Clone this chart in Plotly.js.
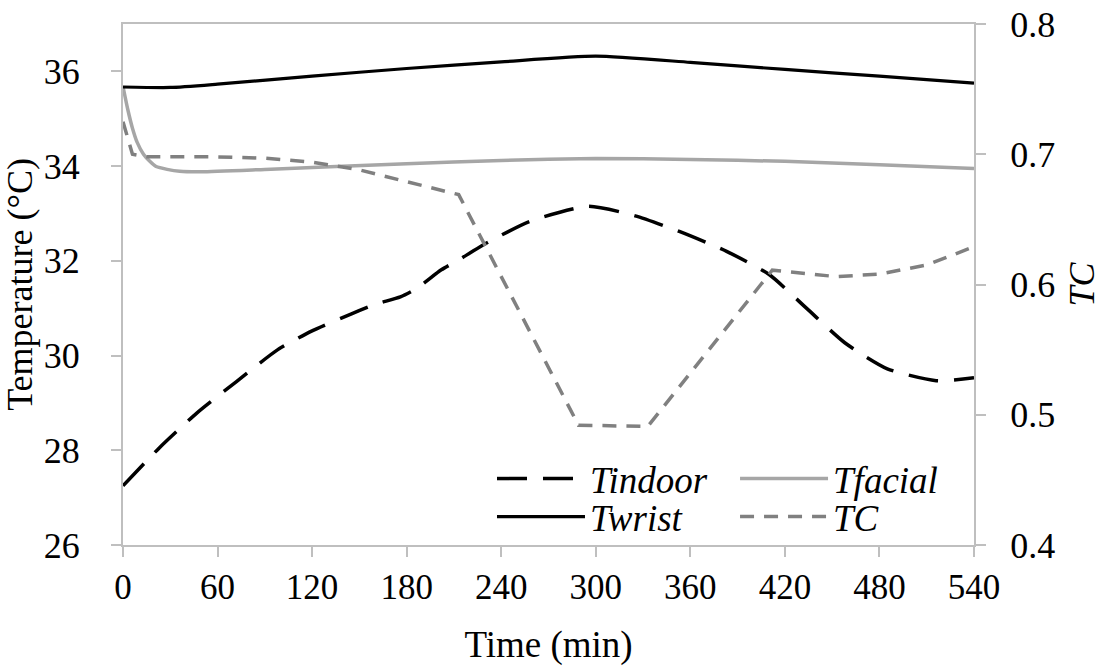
<!DOCTYPE html>
<html>
<head>
<meta charset="utf-8">
<script src="https://cdn.plot.ly/plotly-3.0.1.min.js"></script>
<style>html,body{margin:0;padding:0;background:#fff;}#chart{width:1110px;height:666px;}</style>
</head>
<body>
<div id="chart"></div>
<script>
// Time (min) and values
const tTindoor = [0, 23, 47, 72, 98, 120, 145, 160, 176, 186, 202, 212, 231, 258, 295, 325, 353, 383, 410, 434, 458, 485, 516, 540];
const vTindoor = [27.25, 28.05, 28.79, 29.45, 30.12, 30.52, 30.88, 31.08, 31.24, 31.41, 31.81, 32.0, 32.38, 32.83, 33.15, 32.95, 32.62, 32.2, 31.71, 30.99, 30.27, 29.72, 29.47, 29.53];

const tTwrist = [0, 30, 60, 120, 180, 240, 300, 360, 420, 480, 540];
const vTwrist = [35.67, 35.66, 35.73, 35.9, 36.06, 36.2, 36.32, 36.19, 36.04, 35.9, 35.75];

const tTfacial = [0, 3, 6, 9, 13, 17, 21, 28, 36, 50, 90, 180, 240, 300, 360, 420, 480, 540];
const vTfacial = [35.68, 35.2, 34.8, 34.5, 34.25, 34.1, 33.99, 33.93, 33.89, 33.88, 33.93, 34.05, 34.12, 34.16, 34.14, 34.1, 34.03, 33.95];

const tTC = [0, 3, 6, 15, 30, 60, 90, 120, 150, 180, 213, 289, 333, 412, 430, 453, 480, 510, 540];
const vTC = [0.725, 0.712, 0.7, 0.698, 0.698, 0.698, 0.697, 0.694, 0.688, 0.679, 0.669, 0.492, 0.491, 0.611, 0.609, 0.606, 0.608, 0.615, 0.629];

const xTicks = [0, 60, 120, 180, 240, 300, 360, 420, 480, 540];
const yTicks = [26, 28, 30, 32, 34, 36];
const y2Ticks = [0.4, 0.5, 0.6, 0.7, 0.8];

const FONT = 'Liberation Serif, Times New Roman, serif';
const AXC = '#bfbfbf';

const traces = [
  {x: tTindoor, y: vTindoor, name: 'Tindoor', mode: 'lines', legend: 'legend', line: {color: '#000000', width: 3.5, dash: '30px,16px', shape: 'spline', smoothing: 0.6}},
  {x: tTfacial, y: vTfacial, name: 'Tfacial', mode: 'lines', legend: 'legend2', line: {color: '#a6a6a6', width: 3.5, shape: 'spline', smoothing: 0.5}},
  {x: tTwrist, y: vTwrist, name: 'Twrist', mode: 'lines', legend: 'legend3', line: {color: '#000000', width: 3.2, shape: 'spline', smoothing: 0.6}},
  {x: tTC, y: vTC, name: 'TC', mode: 'lines', yaxis: 'y2', legend: 'legend4', line: {color: '#808080', width: 3.5, dash: '14px,10px'}}
];

function leg(x, y) {
  return {
    orientation: 'v', x: x, xanchor: 'left', y: y, yanchor: 'middle',
    itemwidth: 88, bgcolor: 'rgba(0,0,0,0)', borderwidth: 0,
    font: {family: FONT, size: 37, style: 'italic', color: '#000'}
  };
}

const layout = {
  width: 1110, height: 666,
  margin: {l: 123, r: 136, t: 24, b: 121, autoexpand: false},
  paper_bgcolor: '#ffffff', plot_bgcolor: '#ffffff',
  font: {family: FONT, size: 36, color: '#000000'},
  showlegend: true,
  legend: leg(0.4336, 0.1267),
  legend2: leg(0.7192, 0.1267),
  legend3: leg(0.4336, 0.0537),
  legend4: leg(0.7192, 0.0537),
  xaxis: {
    range: [0, 540], tickvals: xTicks, ticktext: xTicks.map(String),
    showgrid: false, zeroline: false, showline: true, mirror: true, linecolor: AXC, linewidth: 2,
    ticks: 'outside', ticklen: 10, tickcolor: AXC, tickwidth: 2, ticklabelstandoff: 0,
    tickfont: {family: FONT, size: 35},
    title: {text: 'Time (min)', font: {family: FONT, size: 37}, standoff: 25}
  },
  yaxis: {
    range: [26, 37], tickvals: yTicks, ticktext: yTicks.map(String),
    showgrid: false, zeroline: false, showline: true, linecolor: AXC, linewidth: 2,
    ticks: 'outside', ticklen: 10, tickcolor: AXC, tickwidth: 2, ticklabelstandoff: 24,
    title: {text: 'Temperature (°C)', font: {family: FONT, size: 36}, standoff: 3}
  },
  yaxis2: {
    overlaying: 'y', side: 'right', range: [0.4, 0.8], tickvals: y2Ticks, ticktext: y2Ticks.map(v => v.toFixed(1)),
    showgrid: false, zeroline: false, showline: true, linecolor: AXC, linewidth: 2,
    ticks: 'outside', ticklen: 10, tickcolor: AXC, tickwidth: 2, ticklabelstandoff: 17,
    title: {text: 'TC', font: {family: FONT, size: 36, style: 'italic'}, standoff: 15}
  }
};

Plotly.newPlot('chart', traces, layout, {displayModeBar: false, staticPlot: true});
</script>
</body>
</html>
